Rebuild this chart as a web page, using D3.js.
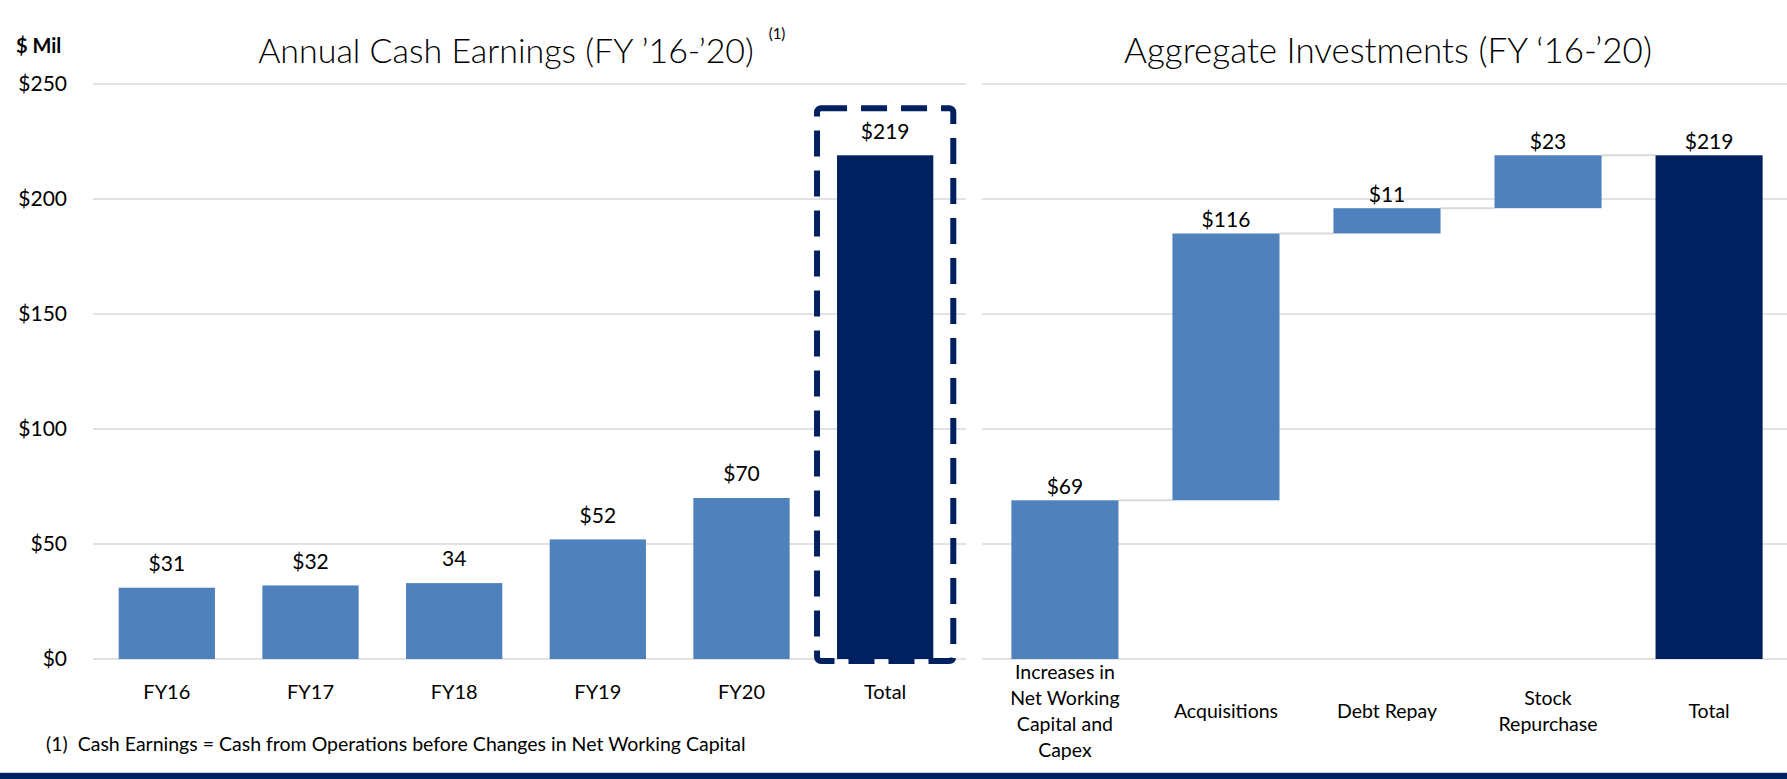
<!DOCTYPE html>
<html>
<head>
<meta charset="utf-8">
<script src="https://cdn.jsdelivr.net/npm/d3@7"></script>
<style>
  body { margin: 0; background: #fff; }
  text { font-family: Lato, "Open Sans", sans-serif; fill: #000; }
</style>
</head>
<body>
<div class="chart"></div>
<script>
// Data
var earnYears = ["FY16", "FY17", "FY18", "FY19", "FY20", "Total"],
  earnValues = [31, 32, 33, 52, 70, 219],
  earnLabels = ["$31", "$32", "34", "$52", "$70", "$219"];

var investNames = ["Increases in Net Working Capital and Capex", "Acquisitions", "Debt Repay", "Stock Repurchase", "Total"],
  investLines = [["Increases in", "Net Working", "Capital and", "Capex"], ["Acquisitions"], ["Debt Repay"], ["Stock", "Repurchase"], ["Total"]],
  investValues = [69, 116, 11, 23, 219];

var yTicks = [0, 50, 100, 150, 200, 250];

// Parameters
var width = 1787,
  height = 779,
  lightBlue = "#4f81bd",
  navy = "#002060",
  gridColor = "#d9d9d9";

var svg = d3.select(".chart").append("svg")
  .attr("width", width)
  .attr("height", height);

var y = d3.scaleLinear().domain([0, 250]).range([659, 84]);

var xLeft = d3.scaleBand()
  .domain(earnYears)
  .range([95, 957])
  .paddingInner(0.33)
  .paddingOuter(0.165);

var xRight = d3.scaleBand()
  .domain(investNames)
  .range([984, 1790])
  .paddingInner(0.335)
  .paddingOuter(0.17);

// Gridlines, both panels
function grid(x0, x1) {
  svg.append("g").selectAll("line")
    .data(yTicks)
    .enter().append("line")
      .attr("x1", x0).attr("x2", x1)
      .attr("y1", function(d) { return y(d); })
      .attr("y2", function(d) { return y(d); })
      .style("stroke", gridColor)
      .style("stroke-width", 1.5);
}
grid(93, 966);
grid(982, width);

// Y axis labels
svg.append("g").selectAll("text")
  .data(yTicks)
  .enter().append("text")
    .attr("x", 67)
    .attr("y", function(d) { return y(d); })
    .attr("dy", "0.35em")
    .attr("text-anchor", "end")
    .style("font-size", "21px")
    .text(function(d) { return "$" + d; });

svg.append("text")
  .attr("x", 16).attr("y", 46)
  .attr("dy", "0.35em")
  .style("font-size", "20px")
  .style("font-weight", "bold")
  .text("$ Mil");

// Titles
svg.append("text")
  .attr("x", 506).attr("y", 51)
  .attr("dy", "0.35em")
  .attr("text-anchor", "middle")
  .style("font-size", "34px")
  .style("font-weight", 300)
  .text("Annual Cash Earnings (FY \u201916-\u201920)");
svg.append("text")
  .attr("x", 777).attr("y", 34)
  .attr("dy", "0.35em")
  .attr("text-anchor", "middle")
  .style("font-size", "15px")
  .text("(1)");
svg.append("text")
  .attr("x", 1388).attr("y", 51)
  .attr("dy", "0.35em")
  .attr("text-anchor", "middle")
  .style("font-size", "35px")
  .style("font-weight", 300)
  .text("Aggregate Investments (FY \u201816-\u201920)");

// Left panel: annual cash earnings
var left = svg.append("g");
left.selectAll("rect")
  .data(earnValues)
  .enter().append("rect")
    .attr("x", function(d, i) { return xLeft(earnYears[i]); })
    .attr("width", xLeft.bandwidth())
    .attr("y", function(d) { return y(d); })
    .attr("height", function(d) { return y(0) - y(d); })
    .style("fill", function(d, i) { return i === earnYears.length - 1 ? navy : lightBlue; });

left.selectAll(".val")
  .data(earnValues)
  .enter().append("text")
    .attr("class", "val")
    .attr("x", function(d, i) { return xLeft(earnYears[i]) + xLeft.bandwidth() / 2; })
    .attr("y", function(d) { return y(d) - 24; })
    .attr("dy", "0.35em")
    .attr("text-anchor", "middle")
    .style("font-size", "21px")
    .text(function(d, i) { return earnLabels[i]; });

left.selectAll(".cat")
  .data(earnYears)
  .enter().append("text")
    .attr("class", "cat")
    .attr("x", function(d) { return xLeft(d) + xLeft.bandwidth() / 2; })
    .attr("y", 692)
    .attr("dy", "0.35em")
    .attr("text-anchor", "middle")
    .style("font-size", "20px")
    .text(function(d) { return d; });

// Dashed highlight round the total bar
var tot = earnYears[earnYears.length - 1];
left.append("rect")
  .attr("x", xLeft(tot) - 20)
  .attr("y", y(219) - 47)
  .attr("width", xLeft.bandwidth() + 40)
  .attr("height", y(0) - y(219) + 49)
  .attr("rx", 4)
  .style("fill", "none")
  .style("stroke", navy)
  .style("stroke-width", 6)
  .style("stroke-dasharray", "26,14");

// Right panel: waterfall
var steps = [], run = 0;
investValues.forEach(function(v, i) {
  var isTotal = i === investValues.length - 1;
  var start = isTotal ? 0 : run;
  var end = isTotal ? v : run + v;
  steps.push({ name: investNames[i], lines: investLines[i], value: v, start: start, end: end, total: isTotal });
  if (!isTotal) run += v;
});

var right = svg.append("g");

// connectors
right.selectAll(".conn")
  .data(steps.slice(0, -1))
  .enter().append("line")
    .attr("class", "conn")
    .attr("x1", function(d) { return xRight(d.name) + xRight.bandwidth(); })
    .attr("x2", function(d, i) { return xRight(steps[i + 1].name); })
    .attr("y1", function(d) { return y(d.end); })
    .attr("y2", function(d) { return y(d.end); })
    .style("stroke", gridColor)
    .style("stroke-width", 2);

right.selectAll(".bar")
  .data(steps)
  .enter().append("rect")
    .attr("class", "bar")
    .attr("x", function(d) { return xRight(d.name); })
    .attr("width", xRight.bandwidth())
    .attr("y", function(d) { return y(d.end); })
    .attr("height", function(d) { return y(d.start) - y(d.end); })
    .style("fill", function(d) { return d.total ? navy : lightBlue; });

right.selectAll(".val")
  .data(steps)
  .enter().append("text")
    .attr("class", "val")
    .attr("x", function(d) { return xRight(d.name) + xRight.bandwidth() / 2; })
    .attr("y", function(d) { return y(d.end) - 14; })
    .attr("dy", "0.35em")
    .attr("text-anchor", "middle")
    .style("font-size", "21px")
    .text(function(d) { return "$" + d.value; });

var lineH = 26;
right.selectAll(".cat")
  .data(steps)
  .enter().append("text")
    .attr("class", "cat")
    .attr("text-anchor", "middle")
    .style("font-size", "19.5px")
    .each(function(d) {
      var t = d3.select(this),
        cx = xRight(d.name) + xRight.bandwidth() / 2,
        top = 711 - (d.lines.length - 1) * lineH / 2;
      d.lines.forEach(function(s, k) {
        t.append("tspan")
          .attr("x", cx)
          .attr("y", top + k * lineH)
          .attr("dy", "0.35em")
          .text(s);
      });
    });

// Footnote
svg.append("text")
  .attr("x", 46).attr("y", 744)
  .attr("dy", "0.35em")
  .style("font-size", "19.5px")
  .attr("xml:space", "preserve")
  .text("(1)  Cash Earnings = Cash from Operations before Changes in Net Working Capital");

// Bottom band
svg.append("rect")
  .attr("x", 0).attr("y", 772)
  .attr("width", width).attr("height", 1)
  .style("fill", "#c9d1e0");
svg.append("rect")
  .attr("x", 0).attr("y", 773)
  .attr("width", width).attr("height", 6)
  .style("fill", navy);
</script>
</body>
</html>
